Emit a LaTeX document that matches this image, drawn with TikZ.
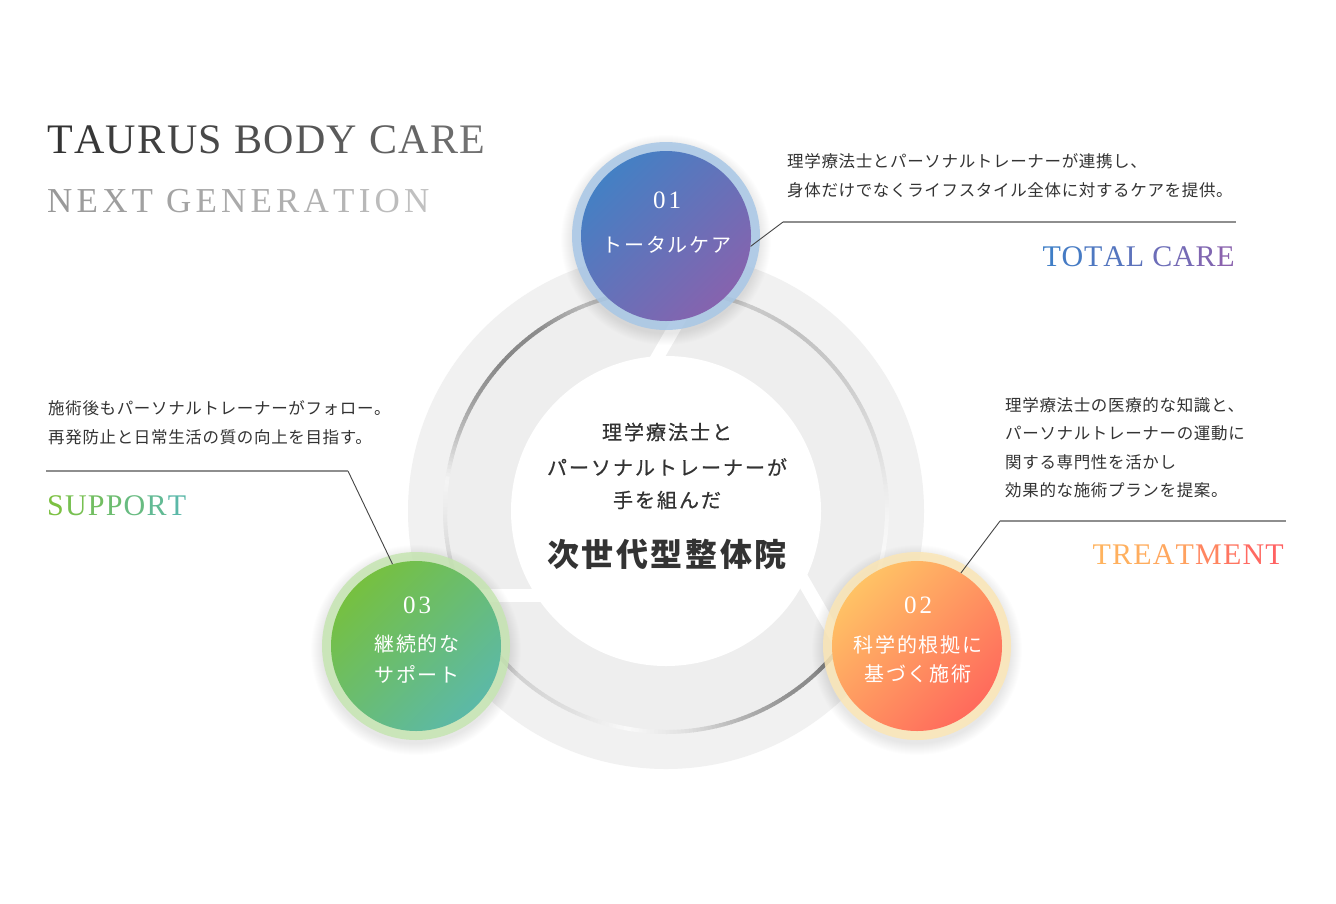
\documentclass[tikz,border=0pt]{standalone}
\usepackage{fontspec}
\usetikzlibrary{calc}
\setmainfont{Liberation Serif}
\newfontfamily\serifL{Liberation Serif}
\newfontfamily\numfont[LetterSpace=12]{Liberation Serif}
\newfontfamily\jpdesc[LetterSpace=4]{Noto Sans CJK JP}
\newfontfamily\jpnode[LetterSpace=9]{Noto Sans CJK JP}
\newfontfamily\jpmid[LetterSpace=10,FakeBold=0.6]{Noto Sans CJK JP}
\newfontfamily\jpbig[LetterSpace=8]{Noto Sans CJK JP}

\definecolor{ringbg}{HTML}{F1F1F1}
\definecolor{txt}{HTML}{333333}
\definecolor{rulegray}{HTML}{8E8E8E}
\definecolor{leadgray}{HTML}{444444}
\definecolor{blueA}{HTML}{4480C4}
\definecolor{blueB}{HTML}{8663AE}
\definecolor{blueRing}{HTML}{A8C7E6}
\definecolor{orA}{HTML}{FFC265}
\definecolor{orB}{HTML}{FF6A5C}
\definecolor{orRing}{HTML}{FBE6B6}
\definecolor{grA}{HTML}{76C040}
\definecolor{grB}{HTML}{5CB9A7}
\definecolor{grRing}{HTML}{C6E5B2}

\newdimen\lsp
\newcommand\cl[2]{\textcolor{gA!#1!gB}{#2}\kern\lsp}
\newcommand\cle[2]{\textcolor{gA!#1!gB}{#2}}
\newcommand\gpair[3]{\definecolor{gA}{HTML}{#1}\definecolor{gB}{HTML}{#2}\lsp=#3pt\relax}

\newcommand\bubble[5]{%
  \foreach \k in {0,...,11}{\fill[black, opacity=0.008] ($(#2)+(0,4)$) circle (94+\k);}
  \fill[#3, opacity=0.85] (#2) circle (94);
  \shade[top color=#4, bottom color=#5, shading angle=45] (#2) circle (85);
  \node[circle, minimum size=170, inner sep=0] (#1) at (#2) {};
}

\newcommand\grayseg[1]{%
 \foreach \aa/\ga/\ab/\gb in {#1}{
  \pgfmathtruncatemacro\n{\ab-\aa}
  \foreach \i in {1,...,\n}{
    \pgfmathsetmacro\ang{\aa+\i-1}
    \pgfmathsetmacro\g{\ga+(\gb-\ga)*(\i-0.5)/\n}
    \draw[black!\g, line width=4] (C) ++(-\ang:221) arc[start angle=-\ang, end angle=-\ang-1.2, radius=221];
  }}}

\tikzset{
  desc/.style={anchor=west, inner sep=0, text=txt, font=\jpdesc\fontsize{16.5}{18}\selectfont},
  lab/.style={inner sep=0, font=\serifL\fontsize{30}{30}\selectfont},
  num/.style={inner sep=0, text=white, font=\numfont\fontsize{25}{25}\selectfont},
  ntext/.style={inner sep=0, text=white, font=\jpnode\fontsize{20}{22}\selectfont},
  mid/.style={inner sep=0, text=txt, font=\jpmid\fontsize{20}{22}\selectfont},
  big/.style={inner sep=0, text=txt, font=\jpbig\bfseries\fontsize{32}{34}\selectfont},
  lead/.style={draw=leadgray, line width=0.9},
  rule/.style={draw=rulegray, line width=1.5},
  cut/.style={draw=white, line width=13}
}

\begin{document}
\begin{tikzpicture}[x=1pt,y=-1pt]
\useasboundingbox (0,0) rectangle (1336,903);
\fill[white] (0,0) rectangle (1336,903);
\coordinate (C) at (666,511);

% ring base
\fill[ringbg] (C) circle (258);
\fill[black!6.5] (C) circle (219);

% gradient arcs
\grayseg{82/25/108/22, 108/22/125/45, 125/45/138/47, 138/47/150/38, 150/38/160/25, 160/25/172/4, 172/4/180/8, 180/8/190/14, 190/14/203/14}
\grayseg{202/16/223/20, 223/20/245/12, 245/12/260/2, 260/2/275/12, 275/12/290/30, 290/30/305/44, 305/44/323/48}
\grayseg{322/6/345/2, 345/2/358/4, 358/4/377/13, 377/13/396/20, 396/20/413/24, 413/24/430/20, 430/20/443/22}

% cuts
\draw[cut] (566,595) -- (396,595);
\draw[cut] (643,382) -- (728,235);
\draw[cut] (789,556) -- (874,703);

% white centre
\fill[white] (C) circle (155);

% bubbles
\coordinate (p1) at (666,236);
\coordinate (p2) at (917,646);
\coordinate (p3) at (416,646);
\bubble{n1}{p1}{blueRing}{blueA}{blueB}
\bubble{n2}{p2}{orRing}{orA}{orB}
\bubble{n3}{p3}{grRing}{grA}{grB}

\node[num] (n1n) at (667,200) {01};
\node[ntext] (n1t) at (667,245) {トータルケア};
\node[num] (n2n) at (918,605) {02};
\node[ntext] (n2t) at (918,645) {科学的根拠に};
\node[ntext] (n2t2) at (918,674) {基づく施術};
\node[num] (n3n) at (417,605) {03};
\node[ntext] (n3t) at (417,644) {継続的な};
\node[ntext] (n3t2) at (417,674) {サポート};

% centre text
\node[mid] (c1) at (667,432) {理学療法士と};
\node[mid] (c2) at (667,467) {パーソナルトレーナーが};
\node[mid] (c3) at (667,500) {手を組んだ};
\node[big] (c4) at (667,554) {次世代型整体院};

% callouts
\coordinate (k1) at (783,222); \coordinate (e1) at (1236,222);
\coordinate (k3) at (348,471); \coordinate (e3) at (46,471);
\coordinate (k2) at (1000,521); \coordinate (e2) at (1286,521);
\draw[lead] (n1.-7.5) -- (k1);
\draw[rule] (k1) -- (e1);
\draw[lead] (n3.106) -- (k3);
\draw[rule] (k3) -- (e3);
\draw[lead] (n2.59.5) -- (k2);
\draw[rule] (k2) -- (e2);

% descriptions
\node[desc] (d1a) at (787,161) {理学療法士とパーソナルトレーナーが連携し、};
\node[desc] (d1b) at (787,190) {身体だけでなくライフスタイル全体に対するケアを提供。};
\node[desc] (d3a) at (48,408) {施術後もパーソナルトレーナーがフォロー。};
\node[desc] (d3b) at (48,437) {再発防止と日常生活の質の向上を目指す。};
\node[desc] (d2a) at (1005,405) {理学療法士の医療的な知識と、};
\node[desc] (d2b) at (1005,433) {パーソナルトレーナーの運動に};
\node[desc] (d2c) at (1005,462) {関する専門性を活かし};
\node[desc] (d2d) at (1005,490) {効果的な施術プランを提案。};

% labels
\node[lab, anchor=east] (l1) at (1235,257) {\gpair{3F7EC6}{8A62AE}{0.8}%
\cl{100}{T}\cl{90}{O}\cl{80}{T}\cl{70}{A}\cl{60}{L} \cl{40}{C}\cl{28}{A}\cl{14}{R}\cle{0}{E}};
\node[lab, anchor=west] (l3) at (47,506) {\gpair{7CC142}{5BB8A8}{1.2}%
\cl{100}{S}\cl{85}{U}\cl{70}{P}\cl{55}{P}\cl{38}{O}\cl{20}{R}\cle{0}{T}};
\node[lab, anchor=east] (l2) at (1284,555) {\gpair{FFB35E}{FF6262}{1.2}%
\cl{100}{T}\cl{96}{R}\cl{92}{E}\cl{86}{A}\cl{78}{T}\cl{45}{M}\cl{25}{E}\cl{10}{N}\cle{0}{T}};

% title
\node[anchor=west, inner sep=0, font=\serifL\fontsize{42}{42}\selectfont] (t1) at (47,140) {\gpair{333333}{727272}{1.4}%
\cl{100}{T}\cl{93}{A}\cl{86}{U}\cl{79}{R}\cl{72}{U}\cl{65}{S} \cl{57}{B}\cl{50}{O}\cl{43}{D}\cl{36}{Y} \cl{28}{C}\cl{19}{A}\cl{10}{R}\cle{0}{E}};
\node[anchor=west, inner sep=0, font=\serifL\fontsize{35}{35}\selectfont] (t2) at (47,201) {\gpair{999999}{C0C0C0}{4.2}%
\cl{100}{N}\cl{93}{E}\cl{86}{X}\cl{79}{T} \cl{71}{G}\cl{64}{E}\cl{57}{N}\cl{50}{E}\cl{43}{R}\cl{36}{A}\cl{29}{T}\cl{21}{I}\cl{11}{O}\cle{0}{N}};
\end{tikzpicture}
\end{document}
